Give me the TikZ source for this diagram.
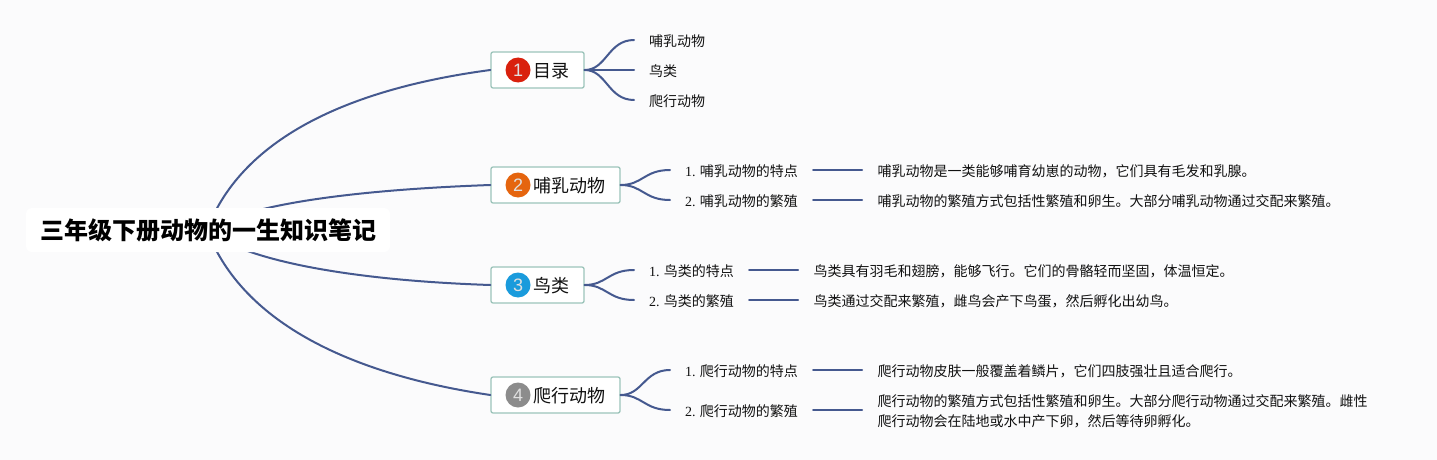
\documentclass[tikz,border=0pt]{standalone}
\usepackage{fontspec}
\setmainfont{Noto Sans CJK SC}
\newfontfamily\latinfont{Liberation Serif}
\newfontfamily\numfont{Liberation Sans}
\definecolor{bgc}{HTML}{FBFBFC}
\definecolor{linec}{HTML}{45598F}
\definecolor{boxc}{HTML}{9CC4BA}
\definecolor{txt}{HTML}{111111}
\definecolor{cA}{HTML}{D9210D}
\definecolor{cB}{HTML}{E5650F}
\definecolor{cC}{HTML}{1A9BDC}
\definecolor{cD}{HTML}{8C8C8C}
\tikzset{
 x=1pt,y=-1pt,
 conn/.style={draw=linec,line width=2pt,line cap=round},
 root/.style={fill=white,rounded corners=6pt,font=\fontsize{24}{24}\selectfont\bfseries,text=black,minimum width=364pt,minimum height=44pt,inner sep=0pt},
 topic/.style={draw=boxc,line width=1.3pt,fill=white,rounded corners=2pt,minimum height=36pt,inner sep=0pt,font=\fontsize{18}{18}\selectfont,text=txt},
 badge/.style={circle,minimum size=25pt,inner sep=0pt,text=white!88!black,font=\fontsize{18}{18}\selectfont\numfont},
 toptext/.style={anchor=west,inner sep=0pt,font=\fontsize{18}{18}\selectfont,text=txt},
 leaf/.style={anchor=west,inner ysep=2pt,inner xsep=15pt,font=\fontsize{14}{14}\selectfont,text=txt},
 desc/.style={anchor=west,inner ysep=2pt,inner xsep=15.5pt,font=\fontsize{14}{20}\selectfont,text=txt,align=left},
}
\newcommand{\nm}[1]{{\latinfont #1}}
\begin{document}
\begin{tikzpicture}
\useasboundingbox (0,0) rectangle (1437,460);
\fill[bgc] (0,0) rectangle (1437,460);
% topics
\node[topic,minimum width=93pt] (t1) at (537.5,70) {};
\node[topic,minimum width=129pt] (t2) at (555.5,185) {};
\node[topic,minimum width=93pt] (t3) at (537.5,285) {};
\node[topic,minimum width=129pt] (t4) at (555.5,395) {};
% root
\coordinate (hub) at (207,230);
\draw[conn] (hub) .. controls (243,135) and (355,88) .. (t1.west);
\draw[conn] (hub) .. controls (245,205) and (350,190) .. (t2.west);
\draw[conn] (hub) .. controls (240,258) and (340,280) .. (t3.west);
\draw[conn] (hub) .. controls (243,325) and (355,375) .. (t4.west);
\node[root] (root) at (208,230) {三年级下册动物的一生知识笔记};
% topic content
\node[badge,fill=cA] (b1) at (518,70) {1};
\node[toptext] (n1) at (533,71) {目录};
\node[badge,fill=cB] (b2) at (518,185) {2};
\node[toptext] (n2) at (533,186) {哺乳动物};
\node[badge,fill=cC] (b3) at (518,285) {3};
\node[toptext] (n3) at (533,286) {鸟类};
\node[badge,fill=cD] (b4) at (518,395) {4};
\node[toptext] (n4) at (533,396) {爬行动物};
% branch 1
\node[leaf] (a1) at (634,41.4) {哺乳动物};
\node[leaf] (a2) at (634,71.4) {鸟类};
\node[leaf] (a3) at (634,101.4) {爬行动物};
% branch 2
\node[leaf] (b21) at (670,171.4) {\nm{1.} 哺乳动物的特点};
\node[leaf] (b22) at (670,201.4) {\nm{2.} 哺乳动物的繁殖};
\node[desc] (d21) at (862,171.4) {哺乳动物是一类能够哺育幼崽的动物，它们具有毛发和乳腺。};
\node[desc] (d22) at (862,201.4) {哺乳动物的繁殖方式包括性繁殖和卵生。大部分哺乳动物通过交配来繁殖。};
% branch 3
\node[leaf] (b31) at (634,271.4) {\nm{1.} 鸟类的特点};
\node[leaf] (b32) at (634,301.4) {\nm{2.} 鸟类的繁殖};
\node[desc] (d31) at (798,271.4) {鸟类具有羽毛和翅膀，能够飞行。它们的骨骼轻而坚固，体温恒定。};
\node[desc] (d32) at (798,301.4) {鸟类通过交配来繁殖，雌鸟会产下鸟蛋，然后孵化出幼鸟。};
% branch 4
\node[leaf] (b41) at (670,371.4) {\nm{1.} 爬行动物的特点};
\node[leaf] (b42) at (670,411.4) {\nm{2.} 爬行动物的繁殖};
\node[desc] (d41) at (862,371.4) {爬行动物皮肤一般覆盖着鳞片，它们四肢强壮且适合爬行。};
\node[desc] (d42) at (862,411.4) {爬行动物的繁殖方式包括性繁殖和卵生。大部分爬行动物通过交配来繁殖。雌性\\爬行动物会在陆地或水中产下卵，然后等待卵孵化。};
% sub connectors
\foreach \s/\e in {t1/a1,t1/a3,t2/b21,t2/b22,t3/b31,t3/b32,t4/b41,t4/b42}{
  \draw[conn] (\s.east) .. controls ([xshift=22pt]\s.east) and ([xshift=-26pt,yshift=1.4pt]\e.west) .. ([yshift=1.4pt]\e.west);
}
\draw[conn] (t1.east) -- ([yshift=1.4pt]a2.west);
\foreach \s/\e in {b21/d21,b22/d22,b31/d31,b32/d32,b41/d41,b42/d42}{
  \draw[conn] ([yshift=1.4pt]\s.east) -- ([yshift=1.4pt]\e.west);
}
\end{tikzpicture}
\end{document}
